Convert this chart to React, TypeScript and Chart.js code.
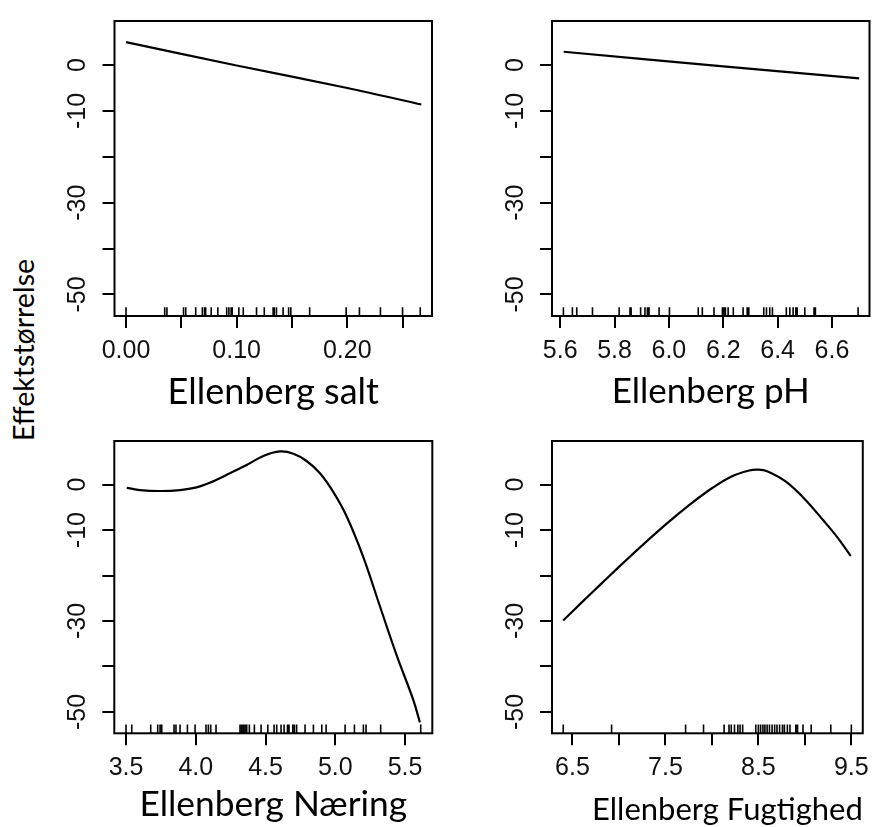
import React, { useEffect, useRef } from 'react';
import { Chart, registerables } from 'chart.js';
Chart.register(...registerables);

// ---------- shared y axis ----------
const yRange = [-54.7, 9.6];
const yTickValues = [-50, -40, -30, -20, -10, 0];
const yTickLabels = ['-50', '', '-30', '', '-10', '0'];
const yAxisTitle = 'Effektstørrelse';

// ---------- panel 1: Ellenberg salt ----------
const saltTitle = 'Ellenberg salt';
const saltRange = [-0.0104, 0.2766];
const saltTicks = [0, 0.05, 0.1, 0.15, 0.2, 0.25];
const saltTickLabels = ['0.00', '', '0.10', '', '0.20', ''];
const saltX = [0, 0.1, 0.2, 0.267];
const saltY = [5.0, -0.1, -5.0, -8.6];
const saltRug = [0, 0.035, 0.037, 0.052, 0.054, 0.063, 0.069, 0.071, 0.072, 0.077, 0.083, 0.091, 0.093, 0.095, 0.096, 0.102, 0.106, 0.118, 0.125, 0.133, 0.134, 0.136, 0.142, 0.147, 0.149, 0.166, 0.199, 0.211, 0.23, 0.25, 0.266];

// ---------- panel 2: Ellenberg pH ----------
const phTitle = 'Ellenberg pH';
const phRange = [5.57, 6.738];
const phTicks = [5.6, 5.8, 6.0, 6.2, 6.4, 6.6];
const phTickLabels = ['5.6', '5.8', '6.0', '6.2', '6.4', '6.6'];
const phX = [5.613, 6.2, 6.7];
const phY = [2.9, -0.3, -2.9];
const phRug = [5.612, 5.645, 5.661, 5.719, 5.817, 5.857, 5.861, 5.896, 5.912, 5.921, 5.927, 5.964, 6.002, 6.108, 6.123, 6.166, 6.197, 6.202, 6.208, 6.218, 6.237, 6.273, 6.288, 6.294, 6.349, 6.359, 6.371, 6.381, 6.432, 6.445, 6.457, 6.467, 6.472, 6.5, 6.534, 6.539, 6.696];

// ---------- panel 3: Ellenberg Næring ----------
const naeringTitle = 'Ellenberg Næring';
const naeringRange = [3.416, 5.695];
const naeringTicks = [3.5, 4.0, 4.5, 5.0, 5.5];
const naeringTickLabels = ['3.5', '4.0', '4.5', '5.0', '5.5'];
const naeringX = [3.505, 3.6, 3.744, 3.887, 4.006, 4.1, 4.245, 4.364, 4.484, 4.603, 4.7, 4.794, 4.89, 4.985, 5.08, 5.2, 5.319, 5.439, 5.558, 5.606];
const naeringY = [-0.7, -1.2, -1.4, -1.2, -0.6, 0.4, 2.5, 4.3, 6.3, 7.3, 6.8, 5.2, 2.5, -1.6, -6.9, -15.9, -26.7, -37.5, -47.3, -52.3];
const naeringRug = [3.5, 3.541, 3.677, 3.727, 3.744, 3.756, 3.844, 3.858, 3.887, 3.94, 3.995, 4.073, 4.09, 4.107, 4.145, 4.317, 4.329, 4.341, 4.353, 4.365, 4.384, 4.42, 4.468, 4.516, 4.561, 4.58, 4.611, 4.633, 4.657, 4.668, 4.695, 4.707, 4.723, 4.783, 4.843, 4.903, 4.934, 5.07, 5.137, 5.201, 5.22, 5.325, 5.612];

// ---------- panel 4: Ellenberg Fugtighed ----------
const fugtTitle = 'Ellenberg Fugtighed';
const fugtRange = [6.28, 9.623];
const fugtTicks = [6.5, 7.0, 7.5, 8.0, 8.5, 9.0, 9.5];
const fugtTickLabels = ['6.5', '', '7.5', '', '8.5', '', '9.5'];
const fugtX = [6.4, 6.6, 6.8, 7.0, 7.2, 7.4, 7.6, 7.8, 8.0, 8.2, 8.4, 8.5, 8.6, 8.8, 9.0, 9.2, 9.35, 9.494];
const fugtY = [-29.9, -25.9, -22.0, -18.1, -14.3, -10.6, -7.1, -3.8, -0.8, 1.7, 3.1, 3.3, 2.9, 0.6, -3.2, -7.9, -11.6, -15.7];
const fugtRug = [6.401, 6.921, 7.717, 7.91, 8.131, 8.184, 8.208, 8.243, 8.279, 8.303, 8.331, 8.472, 8.5, 8.524, 8.549, 8.57, 8.594, 8.619, 8.647, 8.675, 8.7, 8.728, 8.759, 8.78, 8.812, 8.84, 8.903, 8.921, 8.98, 9.068, 9.279, 9.5];

type PanelDef = {
  title: string; xRange: number[]; ticks: number[]; tickLabels: string[];
  xs: number[]; ys: number[]; rug: number[];
  canvas: { left: number; top: number; w: number; h: number };
  area: { l: number; t: number; r: number; b: number };
  titleSize: number; titleCY: number; titleAlign: 'start' | 'center' | 'end';
};

const panels: PanelDef[] = [
  { title: saltTitle, xRange: saltRange, ticks: saltTicks, tickLabels: saltTickLabels, xs: saltX, ys: saltY, rug: saltRug,
    canvas: { left: 40, top: 0, w: 405, h: 420 }, area: { l: 114.5, t: 17, r: 432, b: 316 }, titleSize: 36, titleCY: 392, titleAlign: 'center' },
  { title: phTitle, xRange: phRange, ticks: phTicks, tickLabels: phTickLabels, xs: phX, ys: phY, rug: phRug,
    canvas: { left: 470, top: 0, w: 407, h: 420 }, area: { l: 552, t: 17, r: 869.5, b: 316 }, titleSize: 35, titleCY: 392, titleAlign: 'center' },
  { title: naeringTitle, xRange: naeringRange, ticks: naeringTicks, tickLabels: naeringTickLabels, xs: naeringX, ys: naeringY, rug: naeringRug,
    canvas: { left: 40, top: 420, w: 405, h: 407 }, area: { l: 114.3, t: 435, r: 432.3, b: 733.3 }, titleSize: 35.3, titleCY: 805, titleAlign: 'center' },
  { title: fugtTitle, xRange: fugtRange, ticks: fugtTicks, tickLabels: fugtTickLabels, xs: fugtX, ys: fugtY, rug: fugtRug,
    canvas: { left: 470, top: 420, w: 407, h: 407 }, area: { l: 552, t: 435, r: 869.5, b: 733.3 }, titleSize: 31, titleCY: 810, titleAlign: 'end' },
];

const boxPlugin = {
  id: 'plotBox',
  afterDraw(chart: any) {
    const { ctx, chartArea } = chart;
    ctx.save();
    ctx.strokeStyle = '#000';
    ctx.lineWidth = 2;
    ctx.strokeRect(chartArea.left, chartArea.top, chartArea.right - chartArea.left, chartArea.bottom - chartArea.top);
    ctx.restore();
  },
};

function Panel({ p }: { p: PanelDef }) {
  const ref = useRef<HTMLCanvasElement>(null);
  useEffect(() => {
    if (!ref.current) return;
    const lh = p.titleSize * 1.2;
    const canvasBottom = p.canvas.top + p.canvas.h;
    const titleBottom = p.titleCY + lh / 2;
    const padBottom = Math.max(0, canvasBottom - titleBottom);
    const xh = canvasBottom - padBottom - p.area.b;
    const titlePadBottom = p.area.b + xh - titleBottom;
    const padTop = p.area.t - p.canvas.top;
    const padRight = p.canvas.left + p.canvas.w - p.area.r;
    const yw = p.area.l - p.canvas.left;

    const curve = p.xs.map((x, i) => ({ x, y: p.ys[i] }));
    const rugLen = 0.03 * (yRange[1] - yRange[0]);
    const rugPts: any[] = [];
    p.rug.forEach((v) => {
      rugPts.push({ x: v, y: yRange[0] });
      rugPts.push({ x: v, y: yRange[0] + rugLen });
      rugPts.push({ x: v, y: null });
    });

    const chart = new Chart(ref.current, {
      type: 'line',
      data: {
        datasets: [
          { data: curve, borderColor: '#000', borderWidth: 2.2, pointRadius: 0, tension: 0.35, fill: false },
          { data: rugPts, borderColor: '#000', borderWidth: 1.6, pointRadius: 0, spanGaps: false, tension: 0, fill: false },
        ],
      },
      options: {
        animation: false,
        responsive: false,
        maintainAspectRatio: false,
        devicePixelRatio: 1,
        events: [],
        layout: { padding: { left: 0, top: padTop, right: padRight, bottom: padBottom } },
        plugins: { legend: { display: false }, tooltip: { enabled: false } },
        scales: {
          x: {
            type: 'linear',
            min: p.xRange[0],
            max: p.xRange[1],
            afterFit: (s: any) => { s.height = xh; },
            afterBuildTicks: (s: any) => { s.ticks = p.ticks.map((v) => ({ value: v })); },
            grid: { drawOnChartArea: false, drawTicks: true, tickLength: 12, color: '#000', lineWidth: 2 },
            border: { display: false },
            ticks: {
              autoSkip: false, maxRotation: 0, minRotation: 0, padding: 8, color: '#111',
              font: { family: 'Liberation Sans', size: 25 },
              callback: (_v: any, i: number) => p.tickLabels[i],
            },
            title: {
              display: true, text: p.title, color: '#000', align: p.titleAlign,
              font: { family: 'Lato', size: p.titleSize },
              padding: { top: 0, bottom: titlePadBottom },
            },
          },
          y: {
            type: 'linear',
            min: yRange[0],
            max: yRange[1],
            afterFit: (s: any) => { s.width = yw; },
            afterBuildTicks: (s: any) => { s.ticks = yTickValues.map((v) => ({ value: v })); },
            grid: { drawOnChartArea: false, drawTicks: true, tickLength: 12, color: '#000', lineWidth: 2 },
            border: { display: false },
            ticks: {
              autoSkip: false, minRotation: 90, maxRotation: 90, crossAlign: 'center', padding: 6, color: '#111',
              font: { family: 'Liberation Sans', size: 25 },
              callback: (_v: any, i: number) => yTickLabels[i],
            },
          },
        },
      } as any,
      plugins: [boxPlugin],
    });
    return () => chart.destroy();
  }, [p]);

  return (
    <canvas
      ref={ref}
      width={p.canvas.w}
      height={p.canvas.h}
      style={{ position: 'absolute', left: p.canvas.left, top: p.canvas.top, width: p.canvas.w, height: p.canvas.h }}
    />
  );
}

export default function App() {
  return (
    <div style={{ position: 'absolute', left: 0, top: 0, width: 877, height: 827, overflow: 'hidden', background: '#fff' }}>
      {panels.map((p, i) => <Panel key={i} p={p} />)}
      <div
        style={{
          position: 'absolute', left: 23, top: 350, transform: 'translate(-50%, -50%) rotate(-90deg)',
          fontFamily: 'Lato', fontSize: 28.5, lineHeight: 1, whiteSpace: 'nowrap', color: '#000',
        }}
      >
        {yAxisTitle}
      </div>
    </div>
  );
}
